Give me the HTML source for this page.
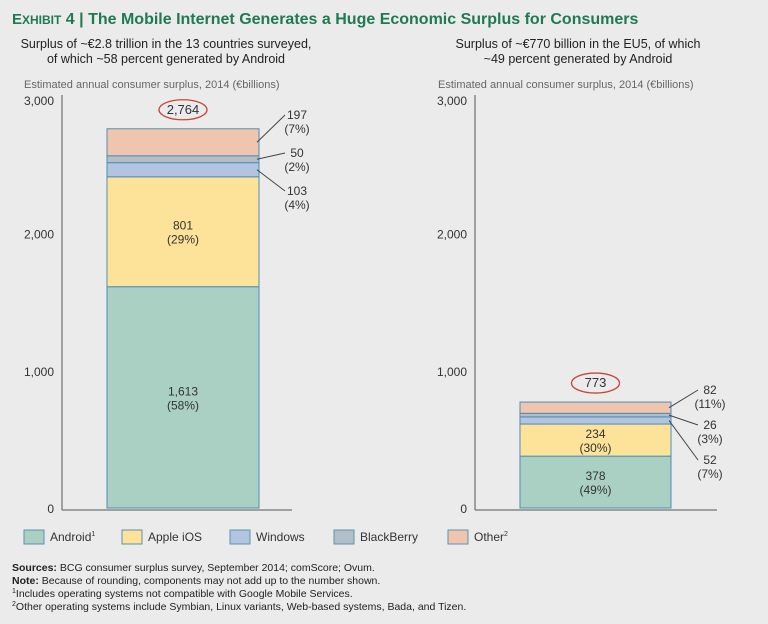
<!DOCTYPE html>
<html><head><meta charset="utf-8"><style>
body{margin:0;background:#ebebeb;}
svg{display:block;font-family:"Liberation Sans",sans-serif;}
</style></head><body>
<svg id="c" width="768" height="624" viewBox="0 0 768 624">
<rect width="768" height="624" fill="#ebebeb"/>
<text x="12" y="24" font-size="16" font-weight="bold" fill="#1f7a52"><tspan font-size="15">E</tspan><tspan font-size="12">XHIBIT</tspan> 4 | The Mobile Internet Generates a Huge Economic Surplus for Consumers</text>
<text x="166" y="48" font-size="12.5" fill="#222" text-anchor="middle"><tspan x="166">Surplus of ~€2.8 trillion in the 13 countries surveyed,</tspan><tspan x="166" dy="15">of which ~58 percent generated by Android</tspan></text>
<text x="578" y="48" font-size="12.5" fill="#222" text-anchor="middle"><tspan x="578">Surplus of ~€770 billion in the EU5, of which</tspan><tspan x="578" dy="15">~49 percent generated by Android</tspan></text>
<text x="24" y="88" font-size="11" fill="#666">Estimated annual consumer surplus, 2014 (€billions)</text>
<text x="438" y="88" font-size="11" fill="#666">Estimated annual consumer surplus, 2014 (€billions)</text>
<g id="plots"></g>
<g font-size="12" fill="#333">
<rect x="24" y="530" width="20" height="14" fill="#a9d0c2" stroke="#5b93b0"/><text x="50" y="541">Android<tspan font-size="7" dy="-5">1</tspan></text>
<rect x="122" y="530" width="20" height="14" fill="#fde29a" stroke="#5b93b0"/><text x="148" y="541">Apple iOS</text>
<rect x="230" y="530" width="20" height="14" fill="#b1c5e0" stroke="#5b93b0"/><text x="256" y="541">Windows</text>
<rect x="334" y="530" width="20" height="14" fill="#b4bec6" stroke="#5b93b0"/><text x="360" y="541">BlackBerry</text>
<rect x="448" y="530" width="20" height="14" fill="#f0c5ae" stroke="#5b93b0"/><text x="474" y="541">Other<tspan font-size="7" dy="-5">2</tspan></text>
</g>
<g font-size="10.5" fill="#222">
<text x="12" y="571"><tspan font-weight="bold">Sources:</tspan> BCG consumer surplus survey, September 2014; comScore; Ovum.</text>
<text x="12" y="584"><tspan font-weight="bold">Note:</tspan> Because of rounding, components may not add up to the number shown.</text>
<text x="12" y="597"><tspan font-size="7" dy="-4">1</tspan><tspan dy="4">Includes operating systems not compatible with Google Mobile Services.</tspan></text>
<text x="12" y="610"><tspan font-size="7" dy="-4">2</tspan><tspan dy="4">Other operating systems include Symbian, Linux variants, Web-based systems, Bada, and Tizen.</tspan></text>
</g>
</svg>
<script>
const series = ['Android','Apple iOS','Windows','BlackBerry','Other'];
const leftValues = [1613, 801, 103, 50, 197];
const leftPcts = ['58%','29%','4%','2%','7%'];
const leftTotal = '2,764';
const rightValues = [378, 234, 52, 26, 82];
const rightPcts = ['49%','30%','7%','3%','11%'];
const rightTotal = '773';
const yTicks = [0, 1000, 2000, 3000];
const yTickLabels = ['0','1,000','2,000','3,000'];

const colors = ['#a9d0c2','#fde29a','#b1c5e0','#b4bec6','#f0c5ae'];
const NS='http://www.w3.org/2000/svg';
const g=document.getElementById('plots');
const y0=508, scale=0.1372;
function yScale(v){return y0 - v*scale;}
function mk(tag,attrs,parent){const e=document.createElementNS(NS,tag);for(const k in attrs)e.setAttribute(k,attrs[k]);(parent||g).appendChild(e);return e;}
function fmt(v){return v.toLocaleString('en-US');}

function panel(axisX, barX, barW, baseEnd, values, pcts, total, labelX, labelYs, prefix){
  mk('line',{x1:axisX,y1:95,x2:axisX,y2:y0+2,stroke:'#555','stroke-width':1});
  mk('line',{x1:axisX,y1:y0+2,x2:baseEnd,y2:y0+2,stroke:'#555','stroke-width':1});
  yTicks.forEach((t,i)=>{
    const tx=mk('text',{x:axisX-8,y:Math.max(yScale(t)+5,105),'font-size':12,fill:'#333','text-anchor':'end'});
    
    
    tx.textContent=yTickLabels[i];
  });
  let cum=0; const mids=[];
  values.forEach((v,i)=>{
    const top=yScale(cum+v), bot=yScale(cum);
    const r=mk('rect',{x:barX,y:top,width:barW,height:bot-top,fill:colors[i],stroke:'#4f8db3','stroke-width':1});
    
    
    mids.push((top+bot)/2);
    if(i<2){
      const t=mk('text',{x:barX+barW/2,y:(top+bot)/2-2,'font-size':12,fill:'#333','text-anchor':'middle'});
      
      
      t.innerHTML='<tspan x="'+(barX+barW/2)+'">'+fmt(v)+'</tspan><tspan x="'+(barX+barW/2)+'" dy="14">('+pcts[i]+')</tspan>';
    }
    cum+=v;
  });
  [4,3,2].forEach((idx,j)=>{
    const ly=labelYs[j];
    const l=mk('line',{x1:barX+barW-2,y1:mids[idx],x2:labelX-12,y2:ly-4,stroke:'#444','stroke-width':1});
    
    
    const t=mk('text',{x:labelX,y:ly,'font-size':12,fill:'#333','text-anchor':'middle'});
    
    
    t.innerHTML='<tspan x="'+labelX+'">'+fmt(values[idx])+'</tspan><tspan x="'+labelX+'" dy="14">('+pcts[idx]+')</tspan>';
  });
  const ty=yScale(cum)-15, cx=barX+barW/2;
  const el=mk('ellipse',{cx:cx,cy:ty-4,rx:24,ry:10,fill:'none',stroke:'#c8453a','stroke-width':1.3});
  
  
  const tt=mk('text',{x:cx,y:ty,'font-size':13,fill:'#333','text-anchor':'middle'});
  
  
  tt.textContent=total;
}
panel(62,107,152,292,leftValues,leftPcts,leftTotal,297,[119,157,195],'left');
panel(475,520,151,717,rightValues,rightPcts,rightTotal,710,[394,429,464],'right');
</script>
</body></html>
